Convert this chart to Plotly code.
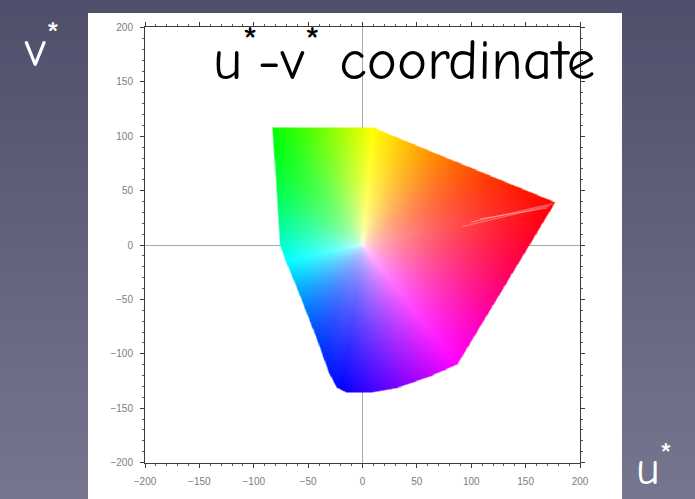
import numpy as np
import plotly.graph_objects as go

# Gamut boundary in the u*-v* plane (clockwise from the green corner)
gamut_u = [-83, 10, 16, 177, 87, 62, 32, 8, -15, -24, -31, -42, -60, -72, -76]
gamut_v = [108, 108, 105, 39, -110, -121, -131.5, -136, -136, -131, -118, -87, -41, -12, 0]

# Direction (deg) of each primary / secondary hue around the white point
hue_anchor_angle = [12, 85, 128, 192, 262, 308, 372]
hue_anchor_hue = [0, 60, 120, 180, 240, 300, 360]

# Light streaks converging on the red corner
streak_u = [[92, 172], [100, 175], [108, 170]]
streak_v = [[17, 36], [21, 38], [24, 34]]

axis_range = [-200, 200]
tick_vals = [-200, -150, -100, -50, 0, 50, 100, 150, 200]


def inside_polygon(px, py, xs, ys):
    res = np.zeros(px.shape, dtype=bool)
    n = len(xs)
    j = n - 1
    for i in range(n):
        xi, yi, xj, yj = xs[i], ys[i], xs[j], ys[j]
        cond = ((yi > py) != (yj > py)) & (
            px < (xj - xi) * (py - yi) / ((yj - yi) + 1e-12) + xi)
        res ^= cond
        j = i
    return res


def boundary_radius(theta, xs, ys):
    dx, dy = np.cos(theta), np.sin(theta)
    best = np.full(theta.shape, np.inf)
    n = len(xs)
    for i in range(n):
        p1x, p1y = xs[i], ys[i]
        ex, ey = xs[(i + 1) % n] - p1x, ys[(i + 1) % n] - p1y
        den = dx * ey - dy * ex
        with np.errstate(divide="ignore", invalid="ignore"):
            t = (p1x * ey - p1y * ex) / den
            s = (p1x * dy - p1y * dx) / den
        ok = (np.abs(den) > 1e-12) & (s >= -1e-9) & (s <= 1 + 1e-9) & (t > 0)
        best = np.where(ok & (t < best), t, best)
    return best


def hsv_to_rgb(h, s, v):
    h = (h % 360) / 60.0
    i = np.floor(h).astype(int) % 6
    f = h - np.floor(h)
    p = v * (1 - s)
    q = v * (1 - s * f)
    t = v * (1 - s * (1 - f))
    r = np.choose(i, [v, q, p, p, t, v])
    g = np.choose(i, [t, v, v, q, p, p])
    b = np.choose(i, [p, p, t, v, v, q])
    return r, g, b


# Pixel grid over the whole axis range
step = 0.5
us = np.arange(axis_range[0], axis_range[1] + step / 2, step)
vs = np.arange(axis_range[0], axis_range[1] + step / 2, step)
UU, VV = np.meshgrid(us, vs)

gu = np.array(gamut_u, float)
gv = np.array(gamut_v, float)

# softened coverage from a small grid of sub-samples
cover = np.zeros(UU.shape)
offs = np.linspace(-0.6, 0.6, 4)
for ox in offs:
    for oy in offs:
        cover += inside_polygon(UU + ox, VV + oy, gu, gv)
cover /= len(offs) ** 2

theta = np.arctan2(VV, UU)
ang = np.degrees(theta) % 360
ang = np.where(ang < hue_anchor_angle[0], ang + 360, ang)
hue = np.interp(ang, hue_anchor_angle, hue_anchor_hue) % 360
radius = np.hypot(UU, VV)
rmax = boundary_radius(theta, gu, gv)
sat = np.clip(radius / rmax, 0, 1) ** 0.5
r, g, b = hsv_to_rgb(hue, sat, np.ones_like(sat))

rgba = np.stack([r * 255, g * 255, b * 255, cover * 255], axis=-1)
rgba = np.clip(np.round(rgba), 0, 255).astype(np.uint8)

fig = go.Figure()
fig.add_trace(go.Image(z=rgba, colormodel="rgba256", x0=us[0], dx=step,
                       y0=vs[0], dy=step, hoverinfo="skip"))

for su, sv in zip(streak_u, streak_v):
    fig.add_trace(go.Scatter(x=su, y=sv, mode="lines",
                             line=dict(color="rgba(255,185,185,0.5)", width=1.2),
                             hoverinfo="skip", showlegend=False))

# Slide background: vertical gradient plus white panel behind the chart
W, H = 695, 499
ml, mr, mt, mb = 145, 115, 27, 36
pw, ph = W - ml - mr, H - mt - mb


def px_to_paper_x(x):
    return (x - ml) / pw


def px_to_paper_y(y):
    return (H - mb - y) / ph


shapes = []
top_rgb = np.array([0x50, 0x4f, 0x6b])
bot_rgb = np.array([0x77, 0x76, 0x8f])
nband = 60
for k in range(nband):
    y0p = k * H / nband
    y1p = (k + 1) * H / nband
    c = top_rgb + (bot_rgb - top_rgb) * (k + 0.5) / nband
    shapes.append(dict(type="rect", xref="paper", yref="paper", layer="below",
                       x0=px_to_paper_x(0), x1=px_to_paper_x(W),
                       y0=px_to_paper_y(y1p + 0.5), y1=px_to_paper_y(y0p - 0.5),
                       line=dict(width=0),
                       fillcolor="rgb(%d,%d,%d)" % tuple(np.round(c).astype(int))))
shapes.append(dict(type="rect", xref="paper", yref="paper", layer="below",
                   x0=px_to_paper_x(88), x1=px_to_paper_x(622),
                   y0=px_to_paper_y(H + 2), y1=px_to_paper_y(13),
                   line=dict(width=0), fillcolor="white"))

axis_common = dict(
    range=axis_range, tickvals=tick_vals, showgrid=False,
    zeroline=True, zerolinecolor="#a9a9a9", zerolinewidth=1,
    showline=True, linecolor="#3c3c3c", linewidth=1, mirror="ticks",
    ticks="outside", ticklen=4, tickcolor="#3c3c3c", tickwidth=1,
    minor=dict(dtick=10, ticks="outside", ticklen=2, tickcolor="#555555"),
    tickfont=dict(family="Liberation Sans, Arial, sans-serif", size=10, color="#7c7c7c"),
    ticklabelstandoff=5,
    fixedrange=True,
)

fig.update_layout(
    width=W, height=H,
    margin=dict(l=ml, r=mr, t=mt, b=mb),
    paper_bgcolor="#636280",
    plot_bgcolor="#c8c8c8",
    showlegend=False,
    shapes=shapes,
    xaxis=dict(**axis_common, constrain="range"),
    yaxis=dict(**axis_common, autorange=False, constrain="range"),
)

comic = "Comic Sans MS, Comic Neue, Open Sans, sans-serif"
fig.add_annotation(xref="paper", yref="paper",
                   x=px_to_paper_x(404), y=px_to_paper_y(56),
                   xanchor="center", yanchor="middle", showarrow=False,
                   text="u<sup>*</sup>-v<sup>*</sup> coordinate",
                   font=dict(family=comic, size=57, color="black"))
fig.add_annotation(xref="paper", yref="paper",
                   x=px_to_paper_x(42), y=px_to_paper_y(46),
                   xanchor="center", yanchor="middle", showarrow=False,
                   text="v<sup>*</sup>",
                   font=dict(family=comic, size=50, color="white"))
fig.add_annotation(xref="paper", yref="paper",
                   x=px_to_paper_x(654), y=px_to_paper_y(498),
                   xanchor="center", yanchor="bottom", showarrow=False,
                   text="u<sup>*</sup>",
                   font=dict(family=comic, size=46, color="white"))

fig.write_html("out.html")
